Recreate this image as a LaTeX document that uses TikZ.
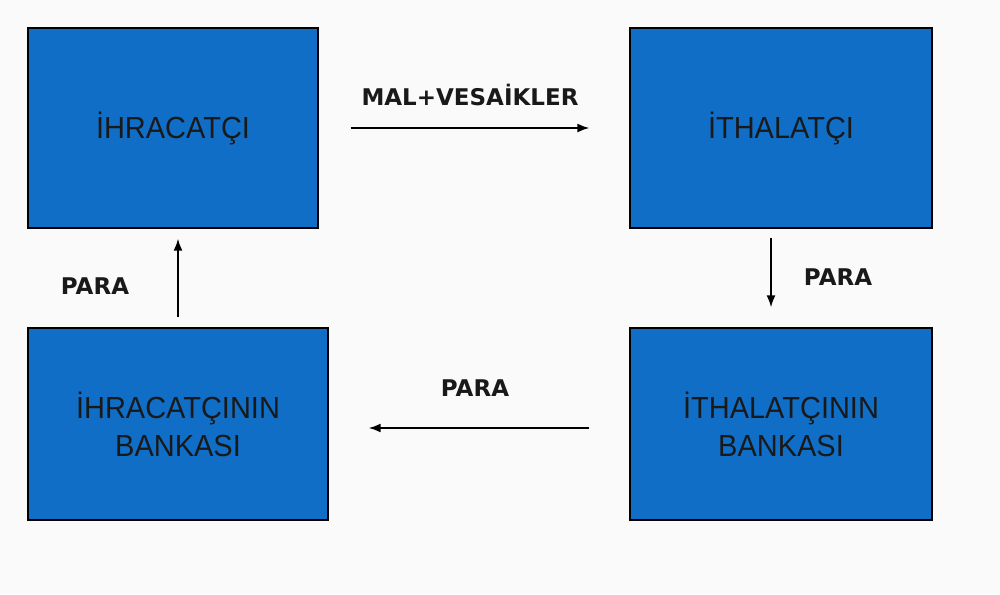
\documentclass[tikz,border=0pt]{standalone}
\usepackage{fontspec}
\setmainfont{DejaVu Sans}
\newfontfamily\boxfont[FakeStretch=0.95]{Liberation Sans}
\usetikzlibrary{arrows.meta}
\definecolor{boxblue}{RGB}{16,110,198}
\definecolor{pagebg}{RGB}{250,250,250}

\begin{document}
\begin{tikzpicture}[x=1pt,y=-1pt,
    party/.style={draw=black,line width=1.4pt,fill=boxblue,inner sep=0pt,align=center,
      font=\boxfont\fontsize{30.5}{38}\selectfont,text=black!90},
    flow/.style={line width=1.6pt,-{Latex[length=12pt,width=9pt]}},
    lbl/.style={font=\bfseries\fontsize{23}{26}\selectfont,text=black!90}]
      \fill[pagebg] (0, 0) rectangle (1000, 594);
      \useasboundingbox (0, 0) rectangle (1000, 594);
      \node[party,minimum width=290pt,minimum height=200pt] (ihr) at (173, 128) {İHRACATÇI};
      \node[party,minimum width=302pt,minimum height=200pt] (itha) at (781, 128) {İTHALATÇI};
      \node[party,minimum width=300pt,minimum height=192pt] (ihb) at (178, 424) {İHRACATÇININ\\BANKASI};
      \node[party,minimum width=302pt,minimum height=192pt] (ithb) at (781, 424) {İTHALATÇININ\\BANKASI};
      \draw[flow,shorten <=32pt,shorten >=40pt] (ihr.east) -- (itha.west);
      \draw[flow,shorten <=9pt,shorten >=20pt] ([xshift=-10pt]itha.south) -- ([xshift=-10pt]ithb.north);
      \draw[flow,shorten <=40pt,shorten >=40pt] ([yshift=-4pt]ithb.west) -- ([yshift=-4pt]ihb.east);
      \draw[flow,shorten <=10pt,shorten >=10pt] (ihb.north) -- (ihb.north |- ihr.south);
      \node[lbl] (goods) at (470, 95) {MAL+VESAİKLER};
      \node[lbl] (pay1) at (838, 277) {PARA};
      \node[lbl] (pay2) at (475, 388) {PARA};
      \node[lbl] (pay3) at (95, 286) {PARA};
    \end{tikzpicture}
\end{document}
